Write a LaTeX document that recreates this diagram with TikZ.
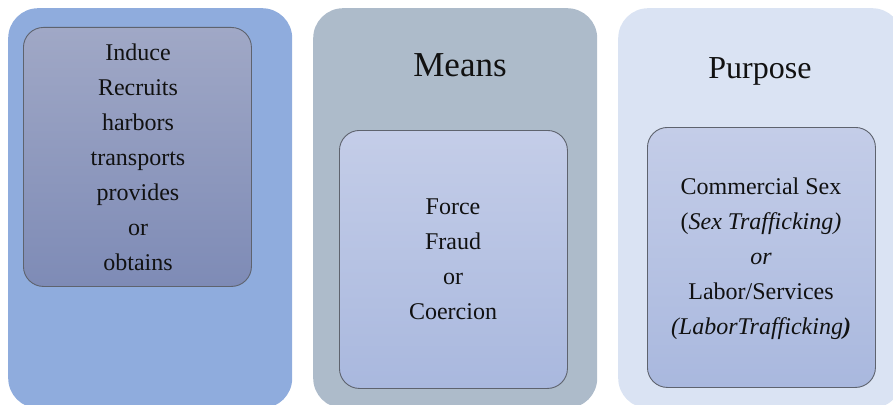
\documentclass[tikz,border=0pt]{standalone}
\usepackage{fontspec}
\setmainfont{Liberation Serif}
\definecolor{outerA}{HTML}{8FACDD}
\definecolor{outerB}{HTML}{ADBBCA}
\definecolor{outerC}{HTML}{DAE3F3}
\definecolor{innerAtop}{HTML}{A0A8C6}
\definecolor{innerAbot}{HTML}{7E8BB6}
\definecolor{innerBtop}{HTML}{C4CDE8}
\definecolor{innerBbot}{HTML}{A9B8DE}
\definecolor{edgegray}{HTML}{5E636E}
\definecolor{ink}{HTML}{111111}
\tikzset{
  outerbox/.style={draw=none, rounded corners=30pt, minimum width=284pt, minimum height=400pt, anchor=north west, inner sep=0pt},
  innerbox/.style={draw=edgegray, line width=0.9pt, rounded corners=20pt, minimum width=228pt, inner sep=0pt, anchor=north west},
  bodytxt/.style={text=ink, align=center, anchor=base, inner sep=0pt, font=\fontsize{24}{35}\selectfont},
  titletxt/.style={text=ink, anchor=base, inner sep=0pt}
}
\begin{document}
\begin{tikzpicture}[x=1pt,y=-1pt]
\useasboundingbox (0,0) rectangle (893,404);
\clip (0,0) rectangle (893,404);
\node[outerbox, fill=outerA] (o1) at (8,8) {};
\node[outerbox, fill=outerB] (o2) at (313,8) {};
\node[outerbox, fill=outerC] (o3) at (618,8) {};
\node[innerbox, minimum height=259pt, top color=innerAtop, bottom color=innerAbot] (i1) at (23,27) {};
\node[innerbox, minimum height=258pt, top color=innerBtop, bottom color=innerBbot] (i2) at (339,130) {};
\node[innerbox, minimum height=260pt, top color=innerBtop, bottom color=innerBbot] (i3) at (647,127) {};
\node[titletxt, font=\fontsize{35}{40}\selectfont] (h2) at (460,77) {Means};
\node[titletxt, font=\fontsize{32}{40}\selectfont] (h3) at (760,78) {Purpose};
\node[bodytxt] (t1) at (138,270) {Induce\\Recruits\\harbors\\transports\\provides\\or\\obtains};
\node[bodytxt] (t2) at (453,319) {Force\\Fraud\\or\\Coercion};
\node[bodytxt] (t3) at (761,334) {Commercial Sex\\(\textit{Sex Trafficking)}\\\textit{or}\\Labor/Services\\\textit{(LaborTrafficking}\textbf{\textit{)}}};
\end{tikzpicture}
\end{document}
